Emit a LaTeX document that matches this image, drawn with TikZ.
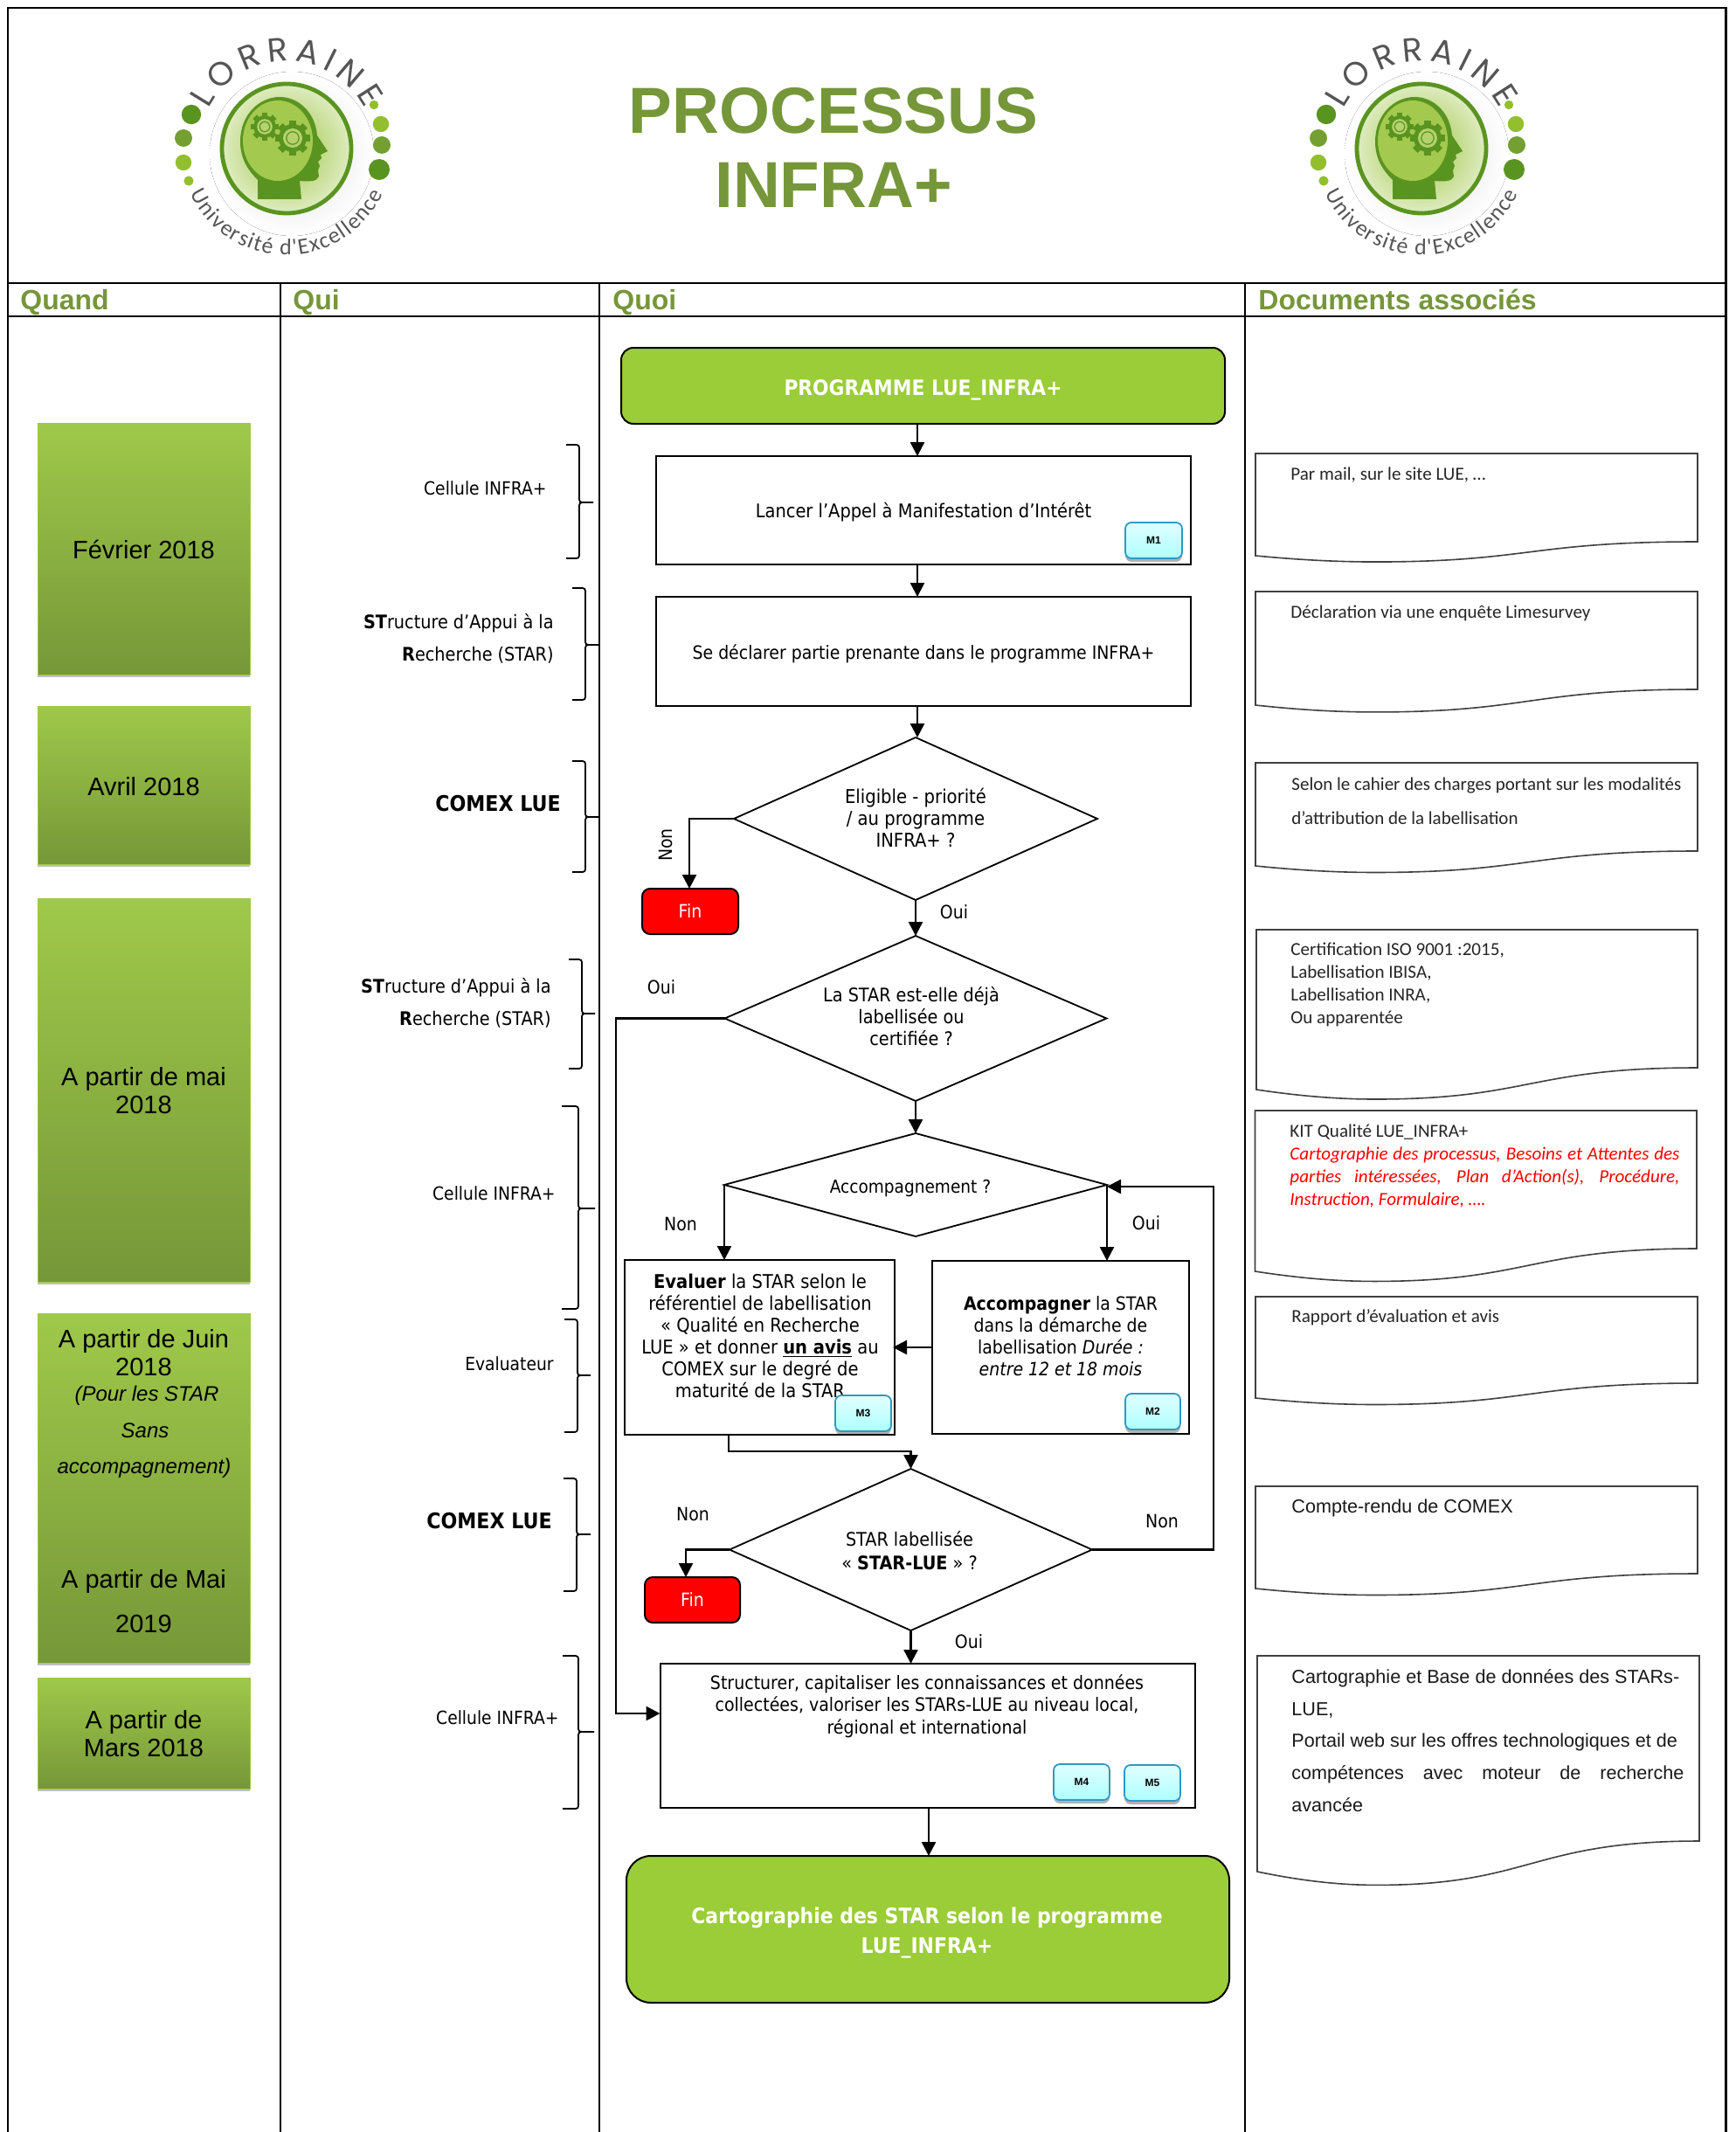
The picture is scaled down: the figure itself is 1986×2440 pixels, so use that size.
\documentclass[tikz,border=0pt]{standalone}
\usepackage{fontspec}
\usetikzlibrary{arrows.meta,shapes.geometric,shadows,decorations.text}
\setmainfont{Liberation Sans}
\newfontfamily\tah{DejaVu Sans Condensed}
\newfontfamily\crl{Carlito}
\newfontfamily\arl{Liberation Sans}
\newfontfamily\lgf{Poppins}
\definecolor{hdgreen}{HTML}{76963A}
\definecolor{btngreen}{HTML}{9ACD37}
\definecolor{qtop}{HTML}{9FC94A}
\definecolor{qbot}{HTML}{769738}
\definecolor{ldk}{HTML}{5A9420}
\definecolor{lmid}{HTML}{74A032}
\definecolor{llt}{HTML}{93BF2F}
\definecolor{lgr}{HTML}{555555}
\newcommand{\tfs}[1]{\tah\fontsize{#1}{12.5}\selectfont}
\tikzset{
  frameline/.style={line width=1.4pt,draw=black},
  hdtext/.style={font=\arl\bfseries\fontsize{16}{18}\selectfont,text=hdgreen,anchor=base west,inner sep=0},
  quand/.style={draw=qtop,line width=.5pt,top color=qtop,bottom color=qbot,outer sep=0,inner sep=0,
    drop shadow={shadow xshift=0pt,shadow yshift=-1.5pt,opacity=.25,fill=black}},
  quandt/.style={font=\arl\fontsize{14.5}{16}\selectfont,text=black,align=center,inner sep=0},
  quandi/.style={font=\arl\itshape\fontsize{12}{14}\selectfont,text=black,align=center,inner sep=0},
  boxn/.style={draw=black,line width=1pt,fill=white,outer sep=0,inner sep=0,font=\tfs{10.7},align=center},
  flowt/.style={font=\tfs{10.7},align=center,inner sep=0},
  greenb/.style={draw=black,line width=1pt,fill=btngreen,rounded corners=7pt,outer sep=0,inner sep=0,text=white,align=center},
  finb/.style={draw=black,line width=1pt,fill=red,rounded corners=4.5pt,outer sep=0,inner sep=0,text=white,font=\tah\fontsize{10.5}{12}\selectfont},
  mbtn/.style={draw=cyan!55!teal,line width=.9pt,top color=cyan!12,bottom color=cyan!32,rounded corners=3.5pt,outer sep=0,inner sep=0,
    font=\arl\bfseries\fontsize{6}{7}\selectfont,text=black,
    drop shadow={shadow xshift=0pt,shadow yshift=-2pt,opacity=.3,fill=black}},
  dia/.style={draw=black,line width=.9pt,diamond,outer sep=0,inner sep=0,fill=white},
  arr/.style={draw=black,line width=1.25pt,-{Triangle[length=8pt,width=8pt]}},
  lbl/.style={font=\tah\fontsize{10.5}{12}\selectfont,inner sep=0},
  quit/.style={font=\tah\fontsize{10.7}{18.5}\selectfont,inner sep=0,align=right,anchor=east},
  quis/.style={font=\tah\fontsize{10.4}{18.5}\selectfont,inner sep=0,align=right,anchor=east},
  comex/.style={font=\tah\bfseries\fontsize{12.3}{14}\selectfont,inner sep=0,anchor=east},
  bracel/.style={draw=black,line width=.9pt},
  docl/.style={draw=black!75,line width=.8pt,fill=white},
  doct/.style={font=\crl\fontsize{10.55}{13}\selectfont,inner sep=0,align=left,anchor=west,text=black!85},
  arlt/.style={font=\arl\fontsize{10.8}{18.4}\selectfont,inner sep=0,align=left,anchor=west,text=black!90}
}
% a rectangular node given by corners
\newcommand{\rectn}[7]{\node[#2,minimum width={(#5-#3)*0.5pt},minimum height={(#6-#4)*0.5pt}] (#1) at ({(#3+#5)/2},{(#4+#6)/2}) {#7};}
\newcommand{\qbrace}[6]{%
  \draw[bracel] (#1,#4) -- ({#2-7},#4) .. controls (#2,#4) and (#2,#4) .. (#2,{#4+7}) -- (#2,{#5-7}) .. controls (#2,#5) and (#2,#5) .. ({#2+7},#5) -- (#3,#5);
  \draw[bracel] ({#2+7},#5) .. controls (#2,#5) and (#2,#5) .. (#2,{#5+7}) -- (#2,{#6-7}) .. controls (#2,#6) and (#2,#6) .. ({#2-7},#6) -- (#1,#6);}
\newcommand{\docbox}[5]{%
  \pgfmathsetmacro\dw{#2-#1}\pgfmathsetmacro\dd{(#5-#4)/25}
  \draw[docl] (#1,#3) -- (#2,#3) -- (#2,#4) .. controls ({#1+.62*\dw},#4) and ({#1+.62*\dw},{#4+36*\dd}) .. ({#1+.27*\dw},{#4+36*\dd})
    .. controls ({#1+.17*\dw},{#4+36*\dd}) and ({#1+.08*\dw},{#4+31*\dd}) .. (#1,#5) -- cycle;}
\newcommand{\lgear}[3]{%
  \foreach \a in {0,45,90,135}{\fill[ldk,rotate around={\a:(#1,#2)}] ({#1-.2*#3},{#2-#3}) rectangle ({#1+.2*#3},{#2+#3});}
  \fill[ldk] (#1,#2) circle[radius={.8*#3*.5pt}];
  \fill[llt!70!white] (#1,#2) circle[radius={.55*#3*.5pt}];
  \draw[ldk,line width=.6pt] (#1,#2) circle[radius={.36*#3*.5pt}];}
\newcommand{\logo}[2]{%
  \begin{scope}[shift={(#1,#2)},x=.5pt,y=-.5pt]
    \fill[inner color=black!14,outer color=white] (6,6) circle[radius=47pt];
    \fill[inner color=llt!90!white,outer color=white!70!llt,draw=ldk,line width=2.4pt] (0,0) circle[radius=37pt];
    \fill[ldk] (-33,58) -- (-33,36) .. controls (-44,25) and (-53,12) .. (-53,-8) .. controls (-53,-40) and (-30,-59) .. (-8,-59)
      .. controls (15,-59) and (33,-40) .. (35,-15) -- (47,3) -- (39,7) -- (40,11) -- (36,15) -- (38,20) -- (36,25) -- (37,32) .. controls (35,38) and (25,38) .. (15,37) -- (17,58) -- cycle;
    \fill[llt!85!white] (-10,-9) ellipse[x radius=20pt,y radius=23pt];
    \lgear{-25}{-25}{16}
    \lgear{7}{-12}{20}
    \fill[ldk] (-109,-39) circle[radius=5.6pt];
    \fill[lmid] (-118,-12) circle[radius=5pt];
    \fill[llt] (-118,16) circle[radius=4.6pt];
    \fill[llt] (-112,37) circle[radius=2.8pt];
    \fill[llt] (100,-50) circle[radius=2.6pt];
    \fill[llt] (108,-28) circle[radius=4.6pt];
    \fill[lmid] (109,-4) circle[radius=5pt];
    \fill[ldk] (106,24) circle[radius=6pt];
  \end{scope}
  \begin{scope}[shift={(#1,#2)},x=.5pt,y=.5pt]
    \path[decorate,decoration={text along path,text align={fit to path},
      text={|\lgf\fontsize{19}{19}\selectfont\color{lgr}|LORRAINE}}]
      (153:50pt) arc[start angle=153,end angle=27,radius=50pt];
    \path[decorate,decoration={text along path,text align={fit to path},
      text={|\crl\fontsize{13}{14}\selectfont\color{lgr}|Université d'Excellence}}]
      (205:61pt) arc[start angle=205,end angle=335,radius=61pt];
  \end{scope}}
\begin{document}
\begin{tikzpicture}[x=.5pt,y=-.5pt]
\useasboundingbox (0,0) rectangle (1986,2440);
% table frame
\draw[frameline] (9,2440) -- (9,9) -- (1975.5,9) -- (1975.5,2440);
\draw[frameline] (9,324) -- (1975.5,324);
\draw[frameline] (9,362) -- (1975.5,362);
\draw[frameline] (321,324) -- (321,2440);
\draw[frameline] (686,324) -- (686,2440);
\draw[frameline] (1425,324) -- (1425,2440);
% logos and title
\logo{328}{170}
\logo{1627}{170}
\node[font=\arl\bfseries\fontsize{37.3}{42.5}\selectfont,text=hdgreen,align=center,inner sep=0] (title) at (954,169) {PROCESSUS\\INFRA+};
% headers
\node[hdtext] (hquand) at (23,354) {Quand};
\node[hdtext] (hqui) at (335,354) {Qui};
\node[hdtext] (hquoi) at (701,354) {Quoi};
\node[hdtext] (hdoc) at (1440,354) {Documents associés};
% Quand
\rectn{q1}{quand}{43}{484}{286}{772}{}
\node[quandt] (q1t) at (164.5,629) {Février 2018};
\rectn{q2}{quand}{43}{808}{286}{989}{}
\node[quandt] (q2t) at (164.5,900) {Avril 2018};
\rectn{q3}{quand}{43}{1028}{286}{1467}{}
\node[quandt] (q3t) at (164.5,1248.5) {A partir de mai\\2018};
\rectn{q4}{quand}{43}{1503}{286}{1903}{}
\node[quandt] (q4a) at (164.5,1548) {A partir de Juin\\2018};
\node[quandi] (q4b) at (168,1597.5) {(Pour les STAR};
\node[quandi] (q4c) at (166,1637) {Sans};
\node[quandi] (q4d) at (165,1680.5) {accompagnement)};
\node[quandt] (q4e) at (164.5,1810) {A partir de Mai};
\node[quandt] (q4f) at (164.5,1858) {2019};
\rectn{q5}{quand}{43}{1920}{286}{2047}{}
\node[quandt] (q5t) at (164.5,1984) {A partir de\\Mars 2018};
% Qui
\qbrace{648}{663}{679}{509}{575}{639}
\node[quis] (w1) at (626,559) {Cellule INFRA+};
\qbrace{655}{670}{686}{673}{738}{801}
\node[quit] (w2) at (634,730.5) {\textbf{ST}ructure d’Appui à la\\\textbf{R}echerche (STAR)};
\qbrace{655}{670}{686}{871}{935}{998}
\node[comex] (w3) at (642,920) {COMEX LUE};
\qbrace{651}{666}{681}{1098}{1160}{1223}
\node[quit] (w4) at (631,1148) {\textbf{ST}ructure d’Appui à la\\\textbf{R}echerche (STAR)};
\qbrace{643}{662}{681}{1266}{1383}{1498}
\node[quis] (w5) at (636,1366) {Cellule INFRA+};
\qbrace{646}{661}{676}{1510}{1574}{1639}
\node[quis] (w6) at (634,1561) {Evaluateur};
\qbrace{645}{660}{676}{1692}{1756}{1821}
\node[comex] (w7) at (632,1741) {COMEX LUE};
\qbrace{644}{662}{680}{1895}{1982}{2070}
\node[quis] (w8) at (640,1966) {Cellule INFRA+};
% Quoi: boxes
\rectn{start}{greenb}{711}{398}{1402}{485}{\raisebox{-5.5pt}[0pt][0pt]{\tah\bfseries\fontsize{12.1}{14}\selectfont PROGRAMME LUE\_INFRA+}}
\rectn{b1}{boxn,font=\tfs{10.8}}{751}{522}{1363}{646}{\raisebox{-4.3pt}[0pt][0pt]{Lancer l’Appel à Manifestation d’Intérêt}}
\rectn{m1}{mbtn}{1288}{598}{1353}{639}{M1}
\rectn{b2}{boxn,font=\tfs{10.5}}{751}{683}{1363}{808}{\raisebox{-4.3pt}[0pt][0pt]{Se déclarer partie prenante dans le programme INFRA+}}
\node[dia,shape aspect=2.23,minimum width=208pt,minimum height=93pt] (d1) at (1048,937) {};
\node[flowt,font=\tfs{10.9}] (d1t) at (1048,936) {Eligible - priorité\\/ au programme\\INFRA+ ?};
\rectn{f1}{finb}{735}{1017}{845}{1069}{Fin}
\node[dia,shape aspect=2.31,minimum width=218.5pt,minimum height=94.5pt] (d2) at (1048,1165.5) {};
\node[flowt] (d2t) at (1043,1163.5) {La STAR est-elle déjà\\labellisée ou\\certifiée ?};
\node[dia,shape aspect=3.7,minimum width=219pt,minimum height=59pt] (d3) at (1048,1356) {};
\node[flowt,font=\tfs{10.3}] (d3t) at (1042,1359.5) {Accompagnement ?};
\rectn{b3}{boxn}{715}{1442}{1024}{1642}{}
\node[flowt,font=\tfs{10.85}] (b3t) at (870,1528.5) {\textbf{Evaluer} la STAR selon le\\référentiel de labellisation\\« Qualité en Recherche\\LUE » et donner \underline{\textbf{un avis}} au\\COMEX sur le degré de\\maturité de la STAR};
\rectn{m3}{mbtn}{956}{1597}{1020}{1638}{M3}
\rectn{b4}{boxn}{1067}{1443}{1361}{1641}{}
\node[flowt,font=\tfs{10.5}] (b4t) at (1214,1529.5) {\textbf{Accompagner} la STAR\\dans la démarche de\\labellisation \textit{Durée :}\\\textit{entre 12 et 18 mois}};
\rectn{m2}{mbtn}{1288}{1595}{1351}{1636}{M2}
\node[dia,shape aspect=2.22,minimum width=207.5pt,minimum height=92.5pt] (d4) at (1042.5,1773.5) {};
\node[flowt,font=\tah\fontsize{10.7}{13.5}\selectfont] (d4t) at (1041,1774.5) {STAR labellisée\\« \textbf{STAR-LUE} » ?};
\rectn{f2}{finb}{738}{1805}{847}{1857}{Fin}
\rectn{b5}{boxn}{755.5}{1904}{1368}{2069}{}
\node[flowt,font=\tah\fontsize{10.55}{12.8}\selectfont] (b5t) at (1061,1952.5) {Structurer, capitaliser les connaissances et données\\collectées, valoriser les STARs-LUE au niveau local,\\régional et international};
\rectn{m4}{mbtn}{1206}{2019}{1270}{2060}{M4}
\rectn{m5}{mbtn}{1287}{2020}{1351}{2061}{M5}
\rectn{stop}{greenb,rounded corners=14pt}{717}{2124}{1407}{2292}{}
\node[font=\tah\bfseries\fontsize{12.2}{17}\selectfont,text=white,align=center,inner sep=0] (stopt) at (1061,2212) {Cartographie des STAR selon le programme\\LUE\_INFRA+};
% connector labels
\node[lbl,rotate=90] (n1) at (762,967) {Non};
\node[lbl] (o1) at (1092,1044) {Oui};
\node[lbl] (o2) at (757,1130) {Oui};
\node[lbl] (n3) at (779,1401) {Non};
\node[lbl] (o3) at (1312,1400) {Oui};
\node[lbl] (n4) at (793,1733) {Non};
\node[lbl] (n5) at (1330,1741) {Non};
\node[lbl] (o4) at (1109,1879) {Oui};
% connectors
\draw[arr] (start.south -| 1050,0) -- (b1.north -| 1050,0);
\draw[arr] (b1.south -| 1050,0) -- (b2.north -| 1050,0);
\draw[arr] (b2.south -| 1050,0) -- (d1.north -| 1050,0);
\draw[arr] (d1.west) -| (f1.north -| 789,0);
\draw[arr] (d1.south) -- (d2.north);
\draw[arr] (d2.west) -- (705,1165.5) |- (b5.west |- 0,1961);
\draw[arr] (d2.south) -- (d3.north);
\draw[arr] (d3.west) -- (b3.north -| d3.west);
\draw[arr] (d3.east) -- (b4.north -| d3.east);
\draw[arr] (b4.west |- 0,1542) -- (1022,1542);
\draw[arr] (b3.south -| 834,0) |- (1042.5,1661) -- (d4.north);
\draw[arr] (d4.west) -| (f2.north -| 785,0);
\draw[arr] (d4.east) -- (1389,1773.5) |- (d3.east |- 0,1358);
\draw[arr] (d4.south) -- (b5.north -| d4.south);
\draw[arr] (b5.south -| 1063,0) -- (stop.north -| 1063,0);
% documents
\docbox{1437}{1943}{519}{620}{636}
\node[doct] (t1) at (1477,544) {Par mail, sur le site LUE, …};
\docbox{1437}{1943}{677}{789}{807}
\node[doct] (t2) at (1477,702) {Déclaration via une enquête Limesurvey};
\docbox{1437}{1943}{873}{974}{991}
\node[doct,font=\crl\fontsize{10.5}{19.5}\selectfont] (t3) at (1478,916.5) {Selon le cahier des charges portant sur les modalités\\d’attribution de la labellisation};
\docbox{1438}{1943}{1064}{1222}{1247}
\node[doct] (t4) at (1477,1127) {Certification ISO 9001 :2015,\\Labellisation IBISA,\\Labellisation INRA,\\Ou apparentée};
\docbox{1436.5}{1942}{1271}{1429}{1455}
\node[doct] (t5) at (1476,1334.5) {KIT Qualité LUE\_INFRA+\\\textcolor{red}{\textit{\hbox to 223pt{Cartographie des processus, Besoins et Attentes des}}}\\\textcolor{red}{\textit{\hbox to 223pt{parties intéressées, Plan d’Action(s), Procédure,}}}\\\textcolor{red}{\textit{Instruction, Formulaire, ….}}};
\docbox{1437}{1943}{1484}{1583}{1600}
\node[doct] (t6) at (1478,1508) {Rapport d’évaluation et avis};
\docbox{1437}{1943}{1701}{1801}{1818}
\node[arlt] (t7) at (1478,1726) {Compte-rendu de COMEX};
\docbox{1439}{1945}{1895}{2107}{2142}
\node[arlt] (t8) at (1478,1992) {Cartographie et Base de données des STARs-\\LUE,\\Portail web sur les offres technologiques et de\\\hbox to 224.5pt{compétences avec moteur de recherche}\\avancée};
\end{tikzpicture}
\end{document}
